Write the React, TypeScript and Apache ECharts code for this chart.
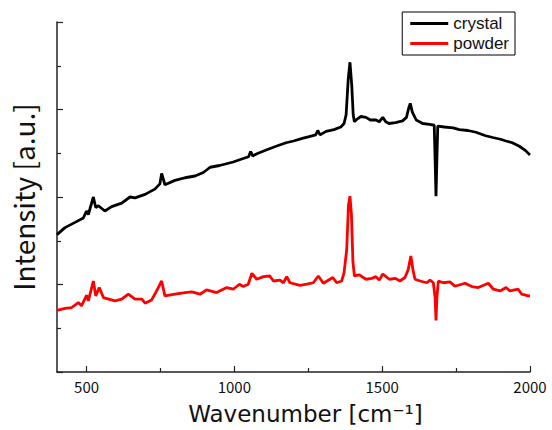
import React, { useEffect, useRef } from "react";
import * as echarts from "echarts";

const crystalX = [400,427,461,489,500,506,523,531,540,562,585,619,647,664,698,731,748,754,765,799,833,867,895,918,950,996,1030,1048,1055,1062,1080,1110,1141,1175,1200,1230,1253,1275,1282,1290,1310,1337,1360,1371,1378,1385,1391,1397,1402,1406,1415,1428,1445,1460,1479,1490,1502,1512,1523,1545,1569,1582,1590,1595,1602,1615,1637,1660,1676,1679,1682,1685,1688,1710,1740,1761,1790,1817,1850,1874,1900,1919,1940,1964,1985,2000];
const crystalY = [1.57,1.65,1.71,1.76,1.84,1.8,2.0,1.88,1.9,1.84,1.89,1.93,2.0,1.99,2.03,2.09,2.15,2.27,2.14,2.19,2.22,2.24,2.28,2.34,2.36,2.4,2.44,2.46,2.52,2.47,2.5,2.54,2.58,2.62,2.64,2.67,2.69,2.71,2.76,2.71,2.75,2.77,2.8,2.84,2.94,3.34,3.54,3.28,2.94,2.86,2.89,2.92,2.91,2.88,2.88,2.86,2.91,2.86,2.84,2.85,2.87,2.91,3.02,3.07,2.97,2.88,2.84,2.83,2.82,2.43,2.01,2.43,2.81,2.8,2.79,2.77,2.76,2.74,2.7,2.68,2.66,2.64,2.62,2.58,2.53,2.48];

const powderX = [400,427,450,472,483,500,506,523,531,543,557,596,619,641,664,687,698,720,737,754,765,799,833,856,884,906,940,974,996,1017,1030,1047,1059,1076,1098,1120,1132,1154,1166,1177,1188,1222,1245,1267,1284,1301,1333,1346,1363,1371,1380,1386,1391,1396,1401,1406,1423,1445,1465,1479,1490,1502,1524,1545,1560,1577,1588,1597,1604,1611,1628,1651,1662,1673,1679,1682,1685,1690,1707,1729,1746,1780,1803,1825,1859,1876,1899,1919,1932,1960,1972,1994,2000];
const powderY = [0.705,0.726,0.737,0.794,0.756,0.877,0.813,1.04,0.87,0.965,0.851,0.813,0.832,0.889,0.832,0.832,0.786,0.824,0.926,1.04,0.87,0.889,0.908,0.915,0.889,0.938,0.908,0.965,0.946,1.003,0.977,1.003,1.128,1.06,1.09,1.097,1.04,1.05,1.02,1.09,1.02,0.99,1.003,1.02,1.097,1.014,1.08,1.02,1.04,1.136,1.4,1.91,2.01,1.8,1.26,1.1,1.11,1.06,1.07,1.09,1.05,1.12,1.06,1.07,1.04,1.08,1.17,1.325,1.17,1.06,1.04,1.02,1.05,1.02,0.85,0.59,0.85,1.04,1.02,1.03,0.98,1.014,0.977,0.965,1.014,0.946,0.926,0.965,0.926,0.946,0.889,0.87,0.87];

const xMajorTicks = [500, 1000, 1500, 2000];
const xMinorTicks = [750, 1250, 1750];
const seriesNames = ["crystal", "powder"];

const FONT = "'Noto Sans CJK JP', 'Noto Sans', sans-serif";
const LEGEND_FONT = "'Liberation Sans', Arial, sans-serif";
const XNAME_FONT = "'DejaVu Sans', sans-serif";

export default function App() {
  const ref = useRef<HTMLDivElement>(null);
  useEffect(() => {
    document.body.style.margin = "0";
    if (!ref.current) return;
    const chart = echarts.init(ref.current, null, { renderer: "svg" });
    const axisLine = { show: true, lineStyle: { color: "#222", width: 1.5 } };
    chart.setOption({
      animation: false,
      grid: { left: 57, right: 22, top: 22, bottom: 57, containLabel: false },
      legend: {
        orient: "vertical",
        right: 37,
        top: 12,
        data: seriesNames,
        borderColor: "#000",
        borderWidth: 1,
        borderRadius: 0,
        padding: [3, 6, 3, 8],
        itemGap: 3,
        itemWidth: 38,
        itemHeight: 3,
        icon: "rect",
        textStyle: { fontSize: 17, color: "#111", fontFamily: LEGEND_FONT, lineHeight: 17 },
      },
      xAxis: [
        {
          type: "value",
          min: 400,
          max: 2000,
          name: "Wavenumber [cm⁻¹]",
          nameLocation: "middle",
          nameGap: 30,
          nameTextStyle: { fontSize: 23, color: "#111", fontFamily: XNAME_FONT, padding: [0, 0, 0, 24] },
          axisLine,
          axisTick: { show: true, inside: true, length: 6, customValues: xMajorTicks, lineStyle: { color: "#222", width: 1.2 } },
          axisLabel: { show: true, customValues: xMajorTicks, formatter: (v: number) => String(v), fontSize: 15, color: "#111", margin: 7, fontFamily: FONT },
          splitLine: { show: false },
        },
        {
          type: "value",
          min: 400,
          max: 2000,
          position: "bottom",
          axisLine: { show: false },
          axisTick: { show: true, inside: true, length: 4, customValues: xMinorTicks, lineStyle: { color: "#222", width: 1.2 } },
          axisLabel: { show: false },
          splitLine: { show: false },
        },
      ],
      yAxis: {
        type: "value",
        min: 0,
        max: 4,
        interval: 1,
        name: "Intensity [a.u.]",
        nameLocation: "middle",
        nameGap: 20,
        nameTextStyle: { fontSize: 28, color: "#111", fontFamily: FONT },
        axisLine,
        axisTick: { show: true, inside: true, length: 6, lineStyle: { color: "#222", width: 1.2 } },
        minorTick: { show: true, splitNumber: 2, length: 4, lineStyle: { color: "#222", width: 1.2 } },
        axisLabel: { show: false },
        splitLine: { show: false },
      },
      series: [
        {
          name: seriesNames[0],
          type: "line",
          xAxisIndex: 0,
          data: crystalX.map((x, i) => [x, crystalY[i]]),
          showSymbol: false,
          lineStyle: { color: "#000", width: 2.8 },
          itemStyle: { color: "#000" },
        },
        {
          name: seriesNames[1],
          type: "line",
          xAxisIndex: 0,
          data: powderX.map((x, i) => [x, powderY[i]]),
          showSymbol: false,
          lineStyle: { color: "#ff0000", width: 2.8 },
          itemStyle: { color: "#ff0000" },
        },
      ],
    });
    return () => chart.dispose();
  }, []);
  return <div ref={ref} style={{ width: 552, height: 430 }} />;
}
